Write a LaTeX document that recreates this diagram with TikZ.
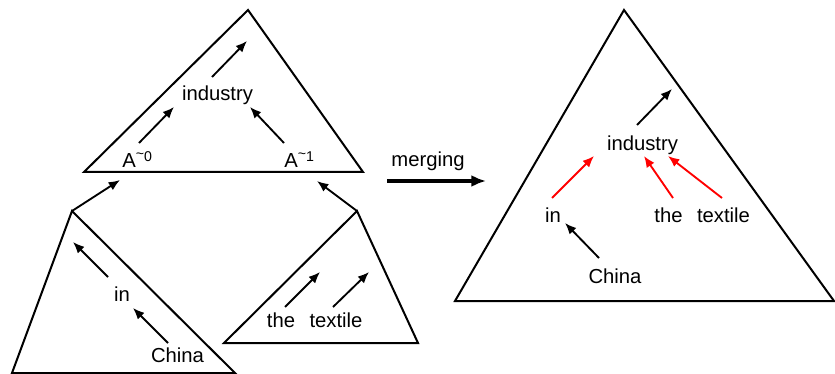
\documentclass[tikz,border=0pt]{standalone}
\usepackage{fontspec}
\setmainfont{Liberation Sans}
\usetikzlibrary{arrows.meta}

\newcommand{\tsup}[1]{\textsuperscript{\raisebox{0.2em}{\textasciitilde}#1}}

\begin{document}
\begin{tikzpicture}[x=0.75pt, y=-0.75pt,
  tri/.style={draw, line width=1.5pt, line join=miter},
  word/.style={inner sep=0pt, anchor=base, font=\fontsize{15.2}{18}\selectfont},
  arr/.style={-{Latex[length=8.5pt,width=7pt]}, line width=1.4pt},
  redarr/.style={arr, draw=red},
  bigarr/.style={-{Latex[length=11pt,width=9pt]}, line width=2.6pt}
]
  \useasboundingbox (0,0) rectangle (835,374);

  % triangle corners
  \coordinate (t1) at (248,10);  \coordinate (t1l) at (84,172);  \coordinate (t1r) at (363,172);
  \coordinate (t2) at (72,211);  \coordinate (t2l) at (12,373);  \coordinate (t2r) at (235,373);
  \coordinate (t3) at (357,211); \coordinate (t3l) at (224,343); \coordinate (t3r) at (418,343);
  \coordinate (t4) at (624,10);  \coordinate (t4l) at (455,301); \coordinate (t4r) at (834,301);

  \draw[tri] (t1) -- (t1l) -- (t1r) -- cycle;
  \draw[tri] (t2) -- (t2l) -- (t2r) -- cycle;
  \draw[tri] (t3) -- (t3l) -- (t3r) -- cycle;
  \draw[tri] (t4) -- (t4l) -- (t4r) -- cycle;

  % left parts
  \node[word] (ind1) at (217.5,101) {industry};
  \node[word, anchor=base west] (a0) at (122,168) {A\tsup{0}};
  \node[word, anchor=base west] (a1) at (284,168) {A\tsup{1}};
  \node[word] (in1) at (122,301) {in};
  \node[word] (china1) at (177.5,362) {China};
  \node[word] (the1) at (281,327) {the};
  \node[word] (tex1) at (336,327) {textile};

  % free arrow heads
  \coordinate (up1) at (247,41);
  \coordinate (up2) at (120,180);
  \coordinate (up3) at (317,181);
  \coordinate (up4) at (73,242);
  \coordinate (up5) at (320,272);
  \coordinate (up6) at (369,272);

  \draw[arr] ([shift={(-5.5,-24)}]ind1.base) -- (up1);
  \draw[arr] ([shift={(17,-25)}]a0.base west) -- ([shift={(-43.5,6)}]ind1.base);
  \draw[arr] ([shift={(0,-25)}]a1.base west) -- ([shift={(32.5,6)}]ind1.base);
  \draw[arr] (t2) -- (up2);
  \draw[arr] (t3) -- (up3);
  \draw[arr] ([shift={(-14,-24)}]in1.base) -- (up4);
  \draw[arr] ([shift={(-9.5,-19)}]china1.base) -- ([shift={(11,7)}]in1.base);
  \draw[arr] ([shift={(4,-20)}]the1.base) -- (up5);
  \draw[arr] ([shift={(-3,-20)}]tex1.base) -- (up6);

  % merging
  \coordinate (m0) at (387,181);
  \coordinate (m1) at (486,181);
  \node[word] (merge) at (428,167) {merging};
  \draw[bigarr] (m0) -- (m1);

  % merged tree
  \node[word] (ind2) at (642.5,151) {industry};
  \node[word] (in2) at (553,222) {in};
  \node[word] (the2) at (668.5,222) {the};
  \node[word] (tex2) at (723.5,222) {textile};
  \node[word] (china2) at (615,283) {China};
  \coordinate (up7) at (672,89);

  \draw[arr] ([shift={(-5.5,-26)}]ind2.base) -- (up7);
  \draw[redarr] ([shift={(-1,-24)}]in2.base) -- ([shift={(-48.5,5)}]ind2.base);
  \draw[redarr] ([shift={(4.5,-24)}]the2.base) -- ([shift={(1.5,5)}]ind2.base);
  \draw[redarr] ([shift={(-1.5,-24)}]tex2.base) -- ([shift={(25.5,5)}]ind2.base);
  \draw[arr] ([shift={(-16,-25)}]china2.base) -- ([shift={(12,1)}]in2.base);
\end{tikzpicture}
\end{document}
